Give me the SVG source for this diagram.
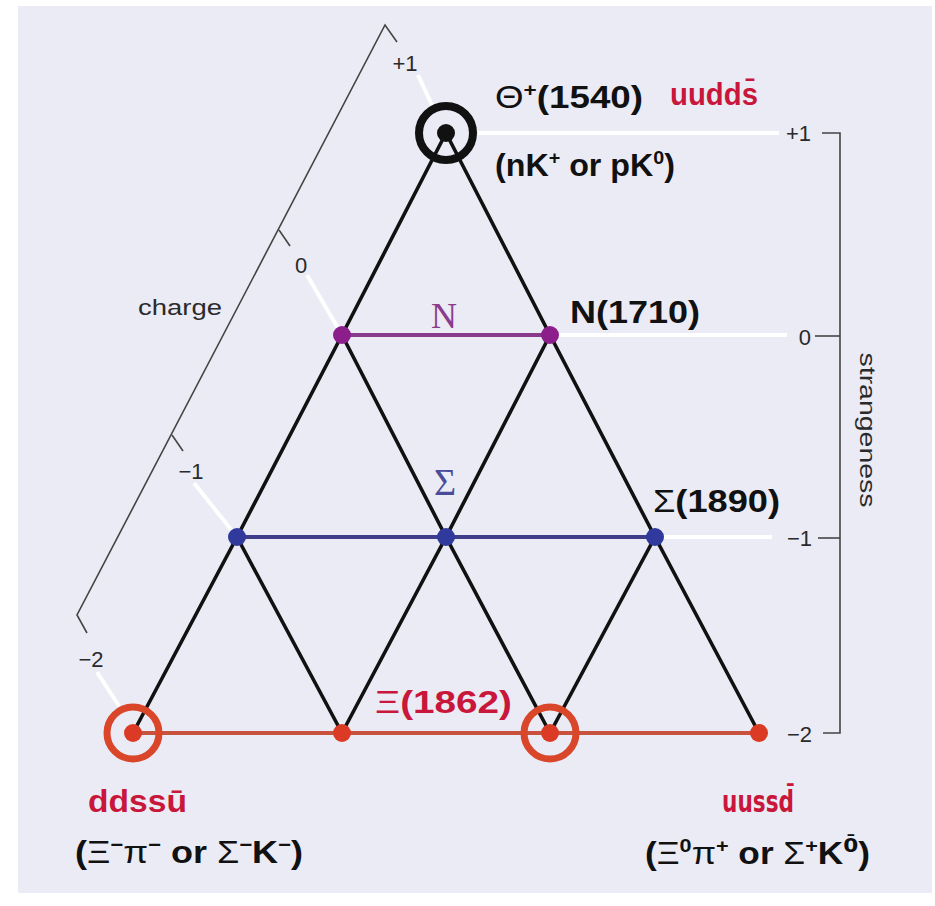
<svg xmlns="http://www.w3.org/2000/svg" width="935" height="906" viewBox="0 0 935 906">
<style>
.bg{fill:#ebebf5}
.guide{stroke:#ffffff;stroke-width:4;fill:none;stroke-linecap:butt}
.axis{stroke:#444;stroke-width:1.6;fill:none}
.edge{stroke:#111;stroke-width:3.6;fill:none;stroke-linejoin:round}
.hN{stroke:#8a3a8a;stroke-width:4}
.hS{stroke:#3d3d8c;stroke-width:4}
.hX{stroke:#c9523e;stroke-width:4}
.dN{fill:#8c1e8c}
.dS{fill:#2f3a9c}
.dX{fill:#db3b25}
.dT{fill:#111}
.ringR{fill:none;stroke:#d9462a;stroke-width:7}
.ringK{fill:none;stroke:#111;stroke-width:8}
.small{font-family:"Liberation Sans",Arial,sans-serif;font-size:22px;fill:#2a2a2a}
.lab{font-family:"Liberation Sans",Arial,sans-serif;font-size:31px;font-weight:bold;fill:#111}
.dj{font-family:"DejaVu Sans","Liberation Sans",sans-serif}
.red{fill:#c8173a}
.g{font-weight:normal}
.ser{font-family:"Liberation Serif","Times New Roman",serif}
</style>
<rect x="0" y="0" width="935" height="906" fill="#ffffff"/>
<rect class="bg" x="18" y="6" width="914" height="887"/>

<g id="guides">
  <line class="guide" x1="418" y1="75" x2="432" y2="105"/>
  <line class="guide" x1="307" y1="275" x2="342" y2="335"/>
  <line class="guide" x1="194" y1="483" x2="237" y2="537"/>
  <line class="guide" x1="97" y1="672" x2="119" y2="706"/>
  <line class="guide" x1="478" y1="133" x2="779" y2="133"/>
  <line class="guide" x1="550" y1="335" x2="787" y2="335"/>
  <line class="guide" x1="655" y1="537" x2="772" y2="537"/>
</g>

<g id="charge-axis">
  <polyline class="axis" points="397,42 385,25 77,615 87,633"/>
  <line class="axis" x1="279" y1="230" x2="290" y2="246"/>
  <line class="axis" x1="172" y1="435" x2="183" y2="451"/>
  <text class="small" x="405" y="71" text-anchor="middle">+1</text>
  <text class="small" x="301" y="273" text-anchor="middle">0</text>
  <text class="small" x="191" y="479" text-anchor="middle">−1</text>
  <text class="small" x="91" y="667" text-anchor="middle">−2</text>
  <text class="small" x="138" y="315" textLength="84" lengthAdjust="spacingAndGlyphs">charge</text>
</g>

<g id="strangeness-axis">
  <polyline class="axis" points="822,133 840,133 840,733 823,733"/>
  <line class="axis" x1="815" y1="336" x2="840" y2="336"/>
  <line class="axis" x1="818" y1="538" x2="840" y2="538"/>
  <text class="small" x="811" y="141" text-anchor="end">+1</text>
  <text class="small" x="811" y="345" text-anchor="end">0</text>
  <text class="small" x="812" y="546" text-anchor="end">−1</text>
  <text class="small" x="812" y="742" text-anchor="end">−2</text>
  <text class="small" transform="translate(860,430) rotate(90)" text-anchor="middle" textLength="155" lengthAdjust="spacingAndGlyphs">strangeness</text>
</g>

<g id="connectors">
  <polyline class="edge" points="446,133 342,335 237,537 133,733"/>
  <polyline class="edge" points="446,133 550,335 655,537 759,733"/>
  <polyline class="edge" points="342,335 446,537 550,733"/>
  <polyline class="edge" points="550,335 446,537 342,733"/>
  <line class="edge" x1="237" y1="537" x2="342" y2="733"/>
  <line class="edge" x1="655" y1="537" x2="550" y2="733"/>
  <line class="hN" x1="342" y1="335" x2="550" y2="335"/>
  <line class="hS" x1="237" y1="537" x2="655" y2="537"/>
  <line class="hX" x1="133" y1="733" x2="759" y2="733"/>
</g>

<g id="node-theta">
  <circle class="ringK" cx="446" cy="133" r="27"/>
  <circle class="dT" cx="446" cy="133" r="9"/>
  <text class="lab" x="495" y="108" textLength="148" lengthAdjust="spacingAndGlyphs"><tspan class="g">Θ</tspan><tspan dy="-12" font-size="19">+</tspan><tspan dy="12">(1540)</tspan></text>
  <text class="lab red" x="670" y="105" textLength="88" lengthAdjust="spacingAndGlyphs">uudds̄</text>
  <text class="lab" x="495" y="176" textLength="180" lengthAdjust="spacingAndGlyphs">(nK<tspan dy="-12" font-size="19">+</tspan><tspan dy="12"> or pK</tspan><tspan dy="-12" font-size="19">0</tspan><tspan dy="12">)</tspan></text>
</g>

<g id="node-N-left"><circle class="dN" cx="342" cy="335" r="9"/></g>
<g id="node-N-right">
  <circle class="dN" cx="550" cy="335" r="9"/>
  <text class="lab" x="570" y="323" textLength="130" lengthAdjust="spacingAndGlyphs">N(1710)</text>
</g>
<g id="label-N"><text class="ser" x="444" y="328" font-size="36" fill="#8b3c8b" text-anchor="middle">N</text></g>

<g id="node-S-left"><circle class="dS" cx="237" cy="537" r="9"/></g>
<g id="node-S-mid"><circle class="dS" cx="446" cy="537" r="9"/></g>
<g id="node-S-right">
  <circle class="dS" cx="655" cy="537" r="9"/>
  <text class="lab" x="653" y="512" textLength="127" lengthAdjust="spacingAndGlyphs"><tspan class="g">Σ</tspan>(1890)</text>
</g>
<g id="label-Sigma"><text class="ser" x="445" y="495" font-size="38" fill="#4b4b9b" text-anchor="middle">Σ</text></g>

<g id="node-X-1">
  <circle class="dX" cx="133" cy="733" r="9"/>
  <circle class="ringR" cx="133" cy="733" r="26"/>
  <text class="lab red" x="88" y="812" textLength="99" lengthAdjust="spacingAndGlyphs">ddssū</text>
  <text class="lab" x="75" y="863" textLength="228" lengthAdjust="spacingAndGlyphs">(<tspan class="g">Ξ</tspan><tspan dy="-12" font-size="19">−</tspan><tspan dy="12" class="g">π</tspan><tspan dy="-12" font-size="19">−</tspan><tspan dy="12"> or </tspan><tspan class="g">Σ</tspan><tspan dy="-12" font-size="19">−</tspan><tspan dy="12">K</tspan><tspan dy="-12" font-size="19">−</tspan><tspan dy="12">)</tspan></text>
</g>
<g id="node-X-2"><circle class="dX" cx="342" cy="733" r="9"/></g>
<g id="node-X-3">
  <circle class="dX" cx="550" cy="733" r="9"/>
  <circle class="ringR" cx="550" cy="733" r="26"/>
</g>
<g id="node-X-4">
  <circle class="dX" cx="759" cy="733" r="9"/>
  <text class="lab red dj" x="722" y="812" textLength="72" lengthAdjust="spacingAndGlyphs">uussd̄</text>
  <text class="lab" x="645" y="864" textLength="225" lengthAdjust="spacingAndGlyphs">(<tspan class="g">Ξ</tspan><tspan dy="-12" font-size="19">0</tspan><tspan dy="12" class="g">π</tspan><tspan dy="-12" font-size="19">+</tspan><tspan dy="12"> or </tspan><tspan class="g">Σ</tspan><tspan dy="-12" font-size="19">+</tspan><tspan dy="12">K</tspan><tspan dy="-12" font-size="19" class="dj">0̄</tspan><tspan dy="12">)</tspan></text>
</g>
<g id="label-Xi"><text class="lab red" x="375" y="713" textLength="137" lengthAdjust="spacingAndGlyphs"><tspan class="g">Ξ</tspan>(1862)</text></g>
</svg>
